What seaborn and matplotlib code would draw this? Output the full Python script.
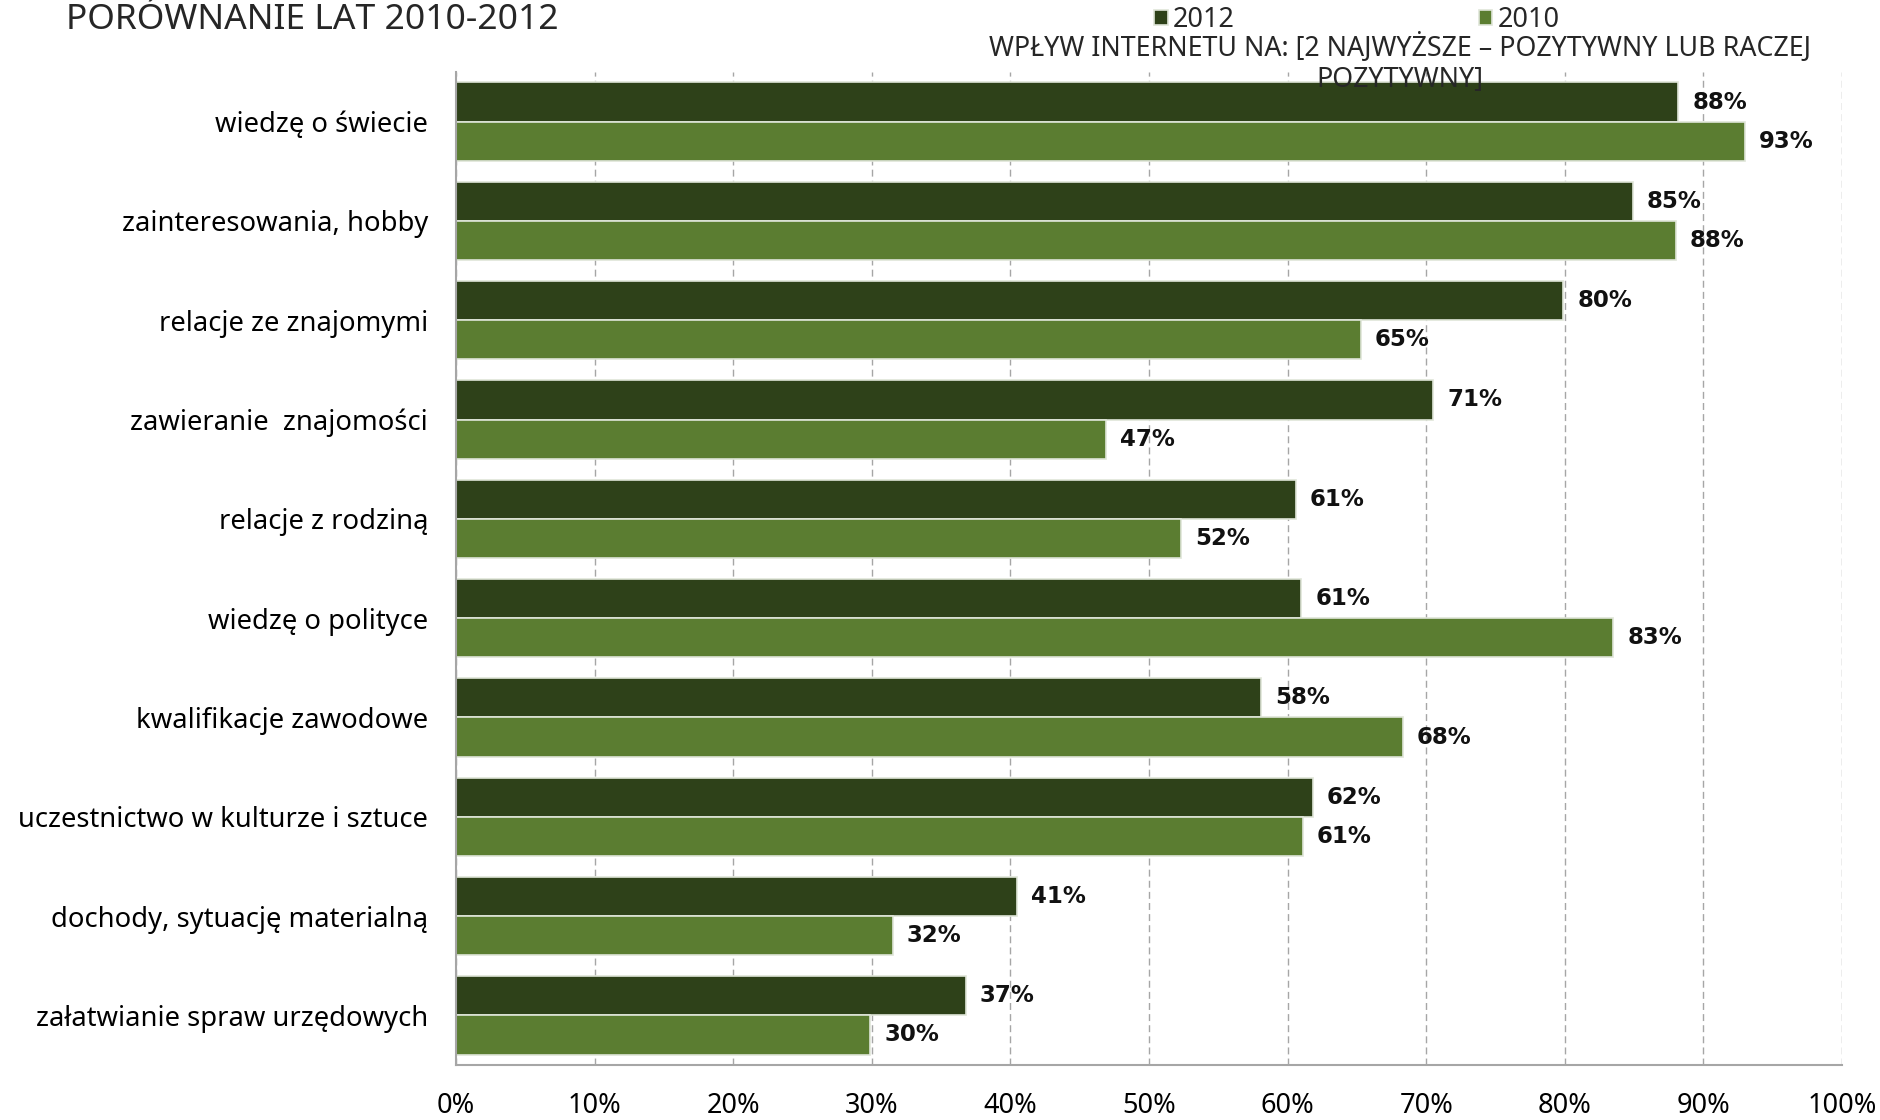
import matplotlib
matplotlib.use("Agg")
import matplotlib.pyplot as plt
import seaborn as sns
import pandas as pd
from matplotlib.ticker import MultipleLocator, FixedLocator, PercentFormatter

categories = [
    "wiedzę o świecie",
    "zainteresowania, hobby",
    "relacje ze znajomymi",
    "zawieranie  znajomości",
    "relacje z rodziną",
    "wiedzę o polityce",
    "kwalifikacje zawodowe",
    "uczestnictwo w kulturze i sztuce",
    "dochody, sytuację materialną",
    "załatwianie spraw urzędowych",
]
values_2012 = [88.2, 84.9, 79.9, 70.5, 60.6, 61.0, 58.1, 61.8, 40.5, 36.8]
values_2010 = [93.0, 88.0, 65.3, 46.9, 52.3, 83.5, 68.3, 61.1, 31.5, 29.9]
labels_2012 = [88, 85, 80, 71, 61, 61, 58, 62, 41, 37]
labels_2010 = [93, 88, 65, 47, 52, 83, 68, 61, 32, 30]
years = ["2012", "2010"]
colors = ["#2E4812", "#5C8A24"]
title = "PORÓWNANIE LAT 2010-2012"
subtitle_1 = "WPŁYW INTERNETU NA: [2 NAJWYŻSZE – POZYTYWNY LUB RACZEJ"
subtitle_2 = "POZYTYWNY]"

sns.set_style("white")
plt.rcParams["font.family"] = ["Noto Sans", "DejaVu Sans"]

df = pd.DataFrame({
    "cat": categories * 2,
    "val": values_2012 + values_2010,
    "year": [years[0]] * len(categories) + [years[1]] * len(categories),
})

fig = plt.figure(figsize=(18.81, 11.2), dpi=100)
ax = fig.add_axes([456 / 1881, 1 - 1065 / 1120, (1842 - 456) / 1881, (1065 - 72) / 1120])

sns.barplot(data=df, y="cat", x="val", hue="year", hue_order=years,
            palette=colors, orient="h", width=0.79, edgecolor="#dfe5d8",
            linewidth=1.2, ax=ax, legend=True)

ax.set_xlim(0, 100)
ax.set_ylim(len(categories) - 0.5, -0.5)
ax.set_xlabel("")
ax.set_ylabel("")
ax.xaxis.set_major_locator(MultipleLocator(10))
ax.xaxis.set_major_formatter(PercentFormatter(decimals=0))
ax.yaxis.set_minor_locator(FixedLocator([i - 0.5 for i in range(len(categories) + 1)]))

ax.set_axisbelow(True)
ax.grid(axis="x", color="#a6a6a6", linestyle=(0, (5, 3)), linewidth=1.0)
ax.grid(axis="y", visible=False)
for s in ["top", "right"]:
    ax.spines[s].set_visible(False)
for s in ["left", "bottom"]:
    ax.spines[s].set_color("#a6a6a6")
    ax.spines[s].set_linewidth(1.5)

ax.tick_params(axis="y", which="major", length=0, pad=20, labelsize=19.7, labelcolor="black")
ax.tick_params(axis="y", which="minor", length=8.5, width=1.5, color="#a6a6a6", direction="out")
ax.tick_params(axis="x", which="major", length=6.5, width=1.5, color="#a6a6a6", direction="out",
               pad=13, labelsize=19.5, labelcolor="black")

for cont, labs in zip(ax.containers, [labels_2012, labels_2010]):
    ax.bar_label(cont, labels=[f"{v}%" for v in labs], padding=10,
                 fontsize=16.5, fontweight="bold", family="DejaVu Sans", color="#111111")

handles, lbls = ax.get_legend_handles_labels()
ax.legend_.remove()
fig.legend(handles, lbls, loc="center", bbox_to_anchor=(1357 / 1881, 1 - 20 / 1120),
           ncol=2, frameon=False, fontsize=19.5, handlelength=0.5, handleheight=0.5,
           handletextpad=0.2, columnspacing=9.0, borderpad=0)

fig.text(66 / 1881, 1 - 29 / 1120, title, fontsize=25.5, va="baseline", ha="left")
fig.text(1400 / 1881, 1 - 48 / 1120, subtitle_1, fontsize=19.3, va="center", ha="center")
fig.text(1400 / 1881, 1 - 80 / 1120, subtitle_2, fontsize=19.3, va="center", ha="center")

fig.savefig("out.png", dpi=100)
